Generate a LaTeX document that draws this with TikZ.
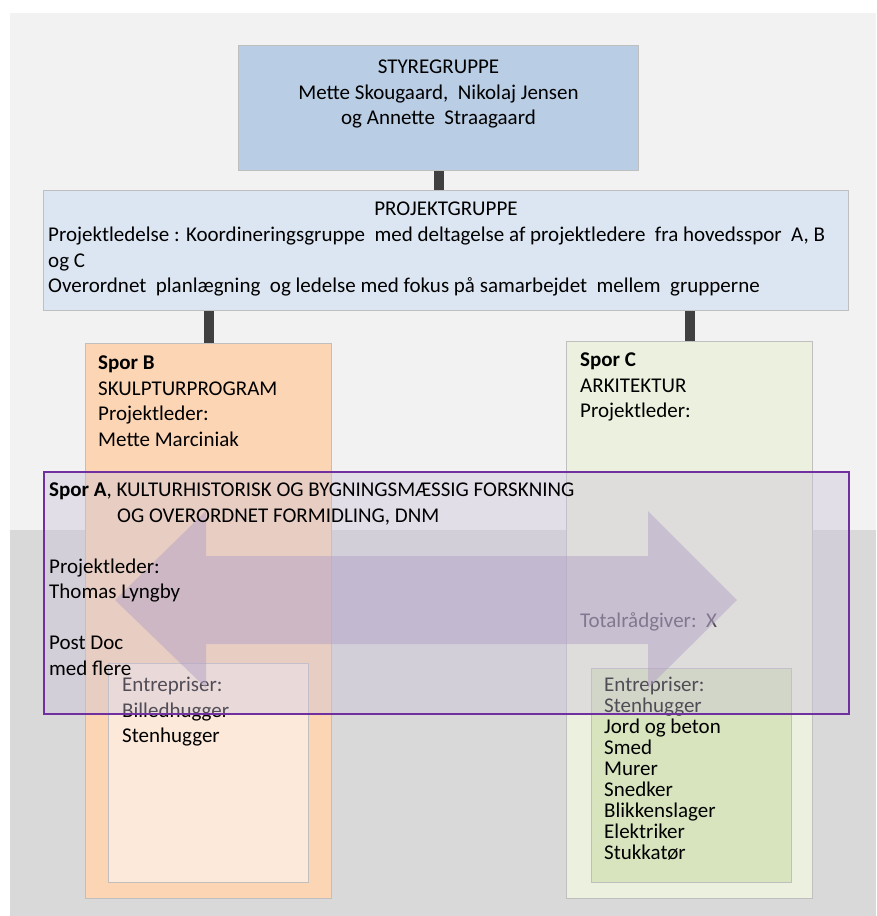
\documentclass[tikz,border=0pt]{standalone}
\usepackage{fontspec}
\setmainfont{Carlito}
\usetikzlibrary{positioning}

\definecolor{panel}{HTML}{F2F2F2}
\definecolor{floor}{HTML}{D9D9D9}
\definecolor{styrefill}{HTML}{B9CDE5}
\definecolor{projfill}{HTML}{DCE6F2}
\definecolor{peach}{HTML}{FCD5B5}
\definecolor{peachlight}{HTML}{FDE9D9}
\definecolor{sage}{HTML}{EBF1DE}
\definecolor{sagedark}{HTML}{D7E4BD}
\definecolor{lilac}{HTML}{CCC1DA}
\definecolor{arrowlilac}{HTML}{B3A2C7}
\definecolor{sporline}{HTML}{7030A0}
\definecolor{stemgray}{HTML}{404040}

\tikzstyle{box} = [draw=black!25, line width=1pt, inner sep=0pt, anchor=north west]
\tikzstyle{stemline} = [line width=10pt, draw=stemgray]
\tikzstyle{txt} = [anchor=north west, align=left, inner sep=0pt, font=\fontsize{21}{25.5}\selectfont]

\begin{document}
\begin{tikzpicture}[x=1pt, y={(0pt,-1pt)}]
	\useasboundingbox (0,0) rectangle (876,916);
	\fill[white] (0,0) rectangle (876,916);
	\fill[panel] (10,13) rectangle (876,530);
	\fill[floor] (10,530) rectangle (876,916);
	
	\node[box, fill=styrefill, minimum width=400pt, minimum height=125pt] (styre) at (238,45) {};
	\node[box, fill=projfill, minimum width=805pt, minimum height=120pt] (projekt) at (43,190) {};
	\node[box, fill=peach, minimum width=246pt, minimum height=555pt] (sporB) at (85,343) {};
	\node[box, fill=sage, minimum width=246pt, minimum height=557pt] (sporC) at (566,341) {};
	\node[box, fill=peachlight, minimum width=200pt, minimum height=219pt] (innerB) at (108,663) {};
	\node[box, fill=sagedark, minimum width=200pt, minimum height=214pt] (innerC) at (591,668) {};
	
	\draw[stemline] (styre.south) -- (styre.south |- projekt.north);
	\draw[stemline] (projekt.south -| sporB.north) -- (sporB.north);
	\draw[stemline] (projekt.south -| sporC.north) -- (sporC.north);
	
	\node[txt, anchor=north, align=center] (styretxt) at ([shift={(0,15)}]styre.north)
		{STYREGRUPPE\\Mette Skougaard,\ \ Nikolaj Jensen\\og Annette\ \ Straagaard};
	\node[txt, anchor=north] (projtitle) at ([shift={(0,12)}]projekt.north) {PROJEKTGRUPPE};
	\node[txt] (projtxt) at (48,227)
		{Projektledelse : Koordineringsgruppe\ \ med deltagelse af projektledere\ \ fra hovedsspor\ \ A, B\\og C\\Overordnet\ \ planlægning\ \ og ledelse med fokus på samarbejdet\ \ mellem\ \ grupperne};
	\node[txt] (sporBtxt) at (98,356)
		{\textbf{Spor B}\\SKULPTURPROGRAM\\Projektleder:\\Mette Marciniak};
	\node[txt] (sporCtxt) at (580,353)
		{\textbf{Spor C}\\ARKITEKTUR\\Projektleder:};
	\node[txt] (totaltxt) at (580,612) {Totalrådgiver:\ \ X};
	\node[txt] (innerBtxt) at (122,677)
		{Entrepriser:\\Billedhugger\\Stenhugger};
	\node[txt, font=\fontsize{21}{21}\selectfont] (innerCtxt) at (604,677)
		{Entrepriser:\\Stenhugger\\Jord og beton\\Smed\\Murer\\Snedker\\Blikkenslager\\Elektriker\\Stukkatør};
	
	\node[box, draw=sporline, line width=1.5pt, fill=lilac, fill opacity=0.4, minimum width=805pt, minimum height=242pt] (sporA) at (43,471) {};
	\fill[arrowlilac, fill opacity=0.5] (115,600) -- (206,511) -- (206,556) -- (648,556) -- (648,511) -- (737,600)
		-- (648,688) -- (648,644) -- (206,644) -- (206,688) -- cycle;
	\node[txt] (sporAtxt) at (49,483)
		{\textbf{Spor A}, KULTURHISTORISK OG BYGNINGSMÆSSIG FORSKNING\\\hspace*{68pt}OG OVERORDNET FORMIDLING, DNM\\[25.5pt]Projektleder:\\Thomas Lyngby\\[25.5pt]Post Doc\\med flere};
\end{tikzpicture}
\end{document}
